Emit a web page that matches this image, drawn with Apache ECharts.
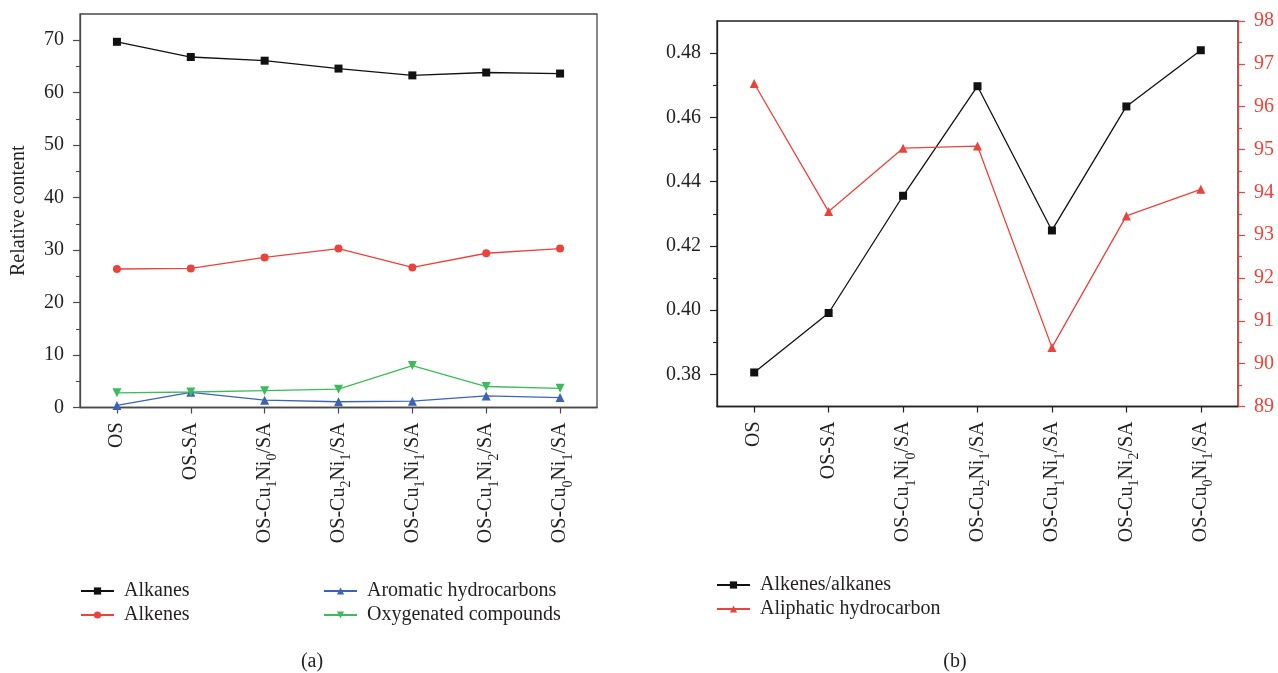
<!DOCTYPE html>
<html>
<head>
<meta charset="utf-8">
<script src="https://cdn.jsdelivr.net/npm/echarts@6/dist/echarts.min.js"></script>
<style>
  html, body { margin: 0; padding: 0; background: #fff; }
  #chart { width: 1278px; height: 673px; }
</style>
</head>
<body>
<div id="chart"></div>
<script>
// Catalyst samples (digits after Cu / Ni are drawn as subscripts)
const categories = ['OS', 'OS-SA', 'OS-Cu1Ni0/SA', 'OS-Cu2Ni1/SA', 'OS-Cu1Ni1/SA', 'OS-Cu1Ni2/SA', 'OS-Cu0Ni1/SA'];

// Panel (a): relative content of product groups
const alkanes    = [69.7, 66.8, 66.1, 64.6, 63.3, 63.85, 63.65];
const alkenes    = [26.4, 26.5, 28.6, 30.3, 26.7, 29.4, 30.3];
const aromatic   = [0.4, 2.9, 1.4, 1.1, 1.2, 2.2, 1.9];
const oxygenated = [2.8, 2.95, 3.2, 3.5, 8.0, 4.0, 3.65];

// Panel (b): alkenes/alkanes ratio and aliphatic hydrocarbon share
const ratio     = [0.3806, 0.3991, 0.4356, 0.4697, 0.4248, 0.4634, 0.4809];
const aliphatic = [96.54, 93.55, 95.03, 95.08, 90.38, 93.45, 94.07];

// Tick values
const contentTicks = [0, 10, 20, 30, 40, 50, 60, 70];
const contentMinor = [5, 15, 25, 35, 45, 55, 65];
const ratioTicks   = [0.38, 0.40, 0.42, 0.44, 0.46, 0.48];
const ratioMinor   = [0.39, 0.41, 0.43, 0.45, 0.47];

const FONT = 'Liberation Serif';
const INK = '#231f20';
const RED = '#e8433d';
const BLACK = '#111111';
const BLUE = '#3d63b5';
const GREEN = '#3dba5c';

const catLabel = v => v.replace(/(Cu|Ni)(\d)/g, '$1{s|$2}');

function xAxisFor(gridIndex, lineColor) {
  return {
    type: 'category', gridIndex, data: categories, boundaryGap: true,
    axisLine: { show: true, lineStyle: { color: lineColor, width: 1.3 } },
    axisTick: { show: true, alignWithLabel: true, length: 6, lineStyle: { color: lineColor, width: 1.2 } },
    axisLabel: {
      rotate: 90, margin: 15, interval: 0, color: INK, fontFamily: FONT, fontSize: 20, lineHeight: 21,
      formatter: catLabel,
      rich: { s: { fontFamily: FONT, fontSize: 14, color: INK, verticalAlign: 'bottom', lineHeight: 30 } }
    },
    splitLine: { show: false }
  };
}

const labelStyle = { color: INK, fontFamily: FONT, fontSize: 20 };
const legendText = { color: INK, fontFamily: FONT, fontSize: 20, padding: [0, 0, 0, 5] };

const option = {
  animation: false,
  backgroundColor: '#ffffff',
  grid: [
    { left: 80, right: 681, top: 14, bottom: 265.5, show: true, borderColor: '#4a4a4a', borderWidth: 1.3, containLabel: false },
    { left: 717, right: 40, top: 21, bottom: 266.5, show: true, borderColor: '#222', borderWidth: 1.3, containLabel: false }
  ],
  xAxis: [ xAxisFor(0, '#4a4a4a'), xAxisFor(1, '#222') ],
  yAxis: [
    {
      type: 'value', gridIndex: 0, min: 0, max: 75, position: 'left',
      name: 'Relative content', nameLocation: 'middle', nameGap: 51,
      nameTextStyle: { color: INK, fontFamily: FONT, fontSize: 20 },
      axisLine: { show: true, lineStyle: { color: '#4a4a4a', width: 1.3 } },
      axisTick: { show: true, length: 7, customValues: contentTicks, lineStyle: { color: '#4a4a4a', width: 1.2 } },
      axisLabel: Object.assign({ margin: 16, customValues: contentTicks }, labelStyle),
      splitLine: { show: false }
    },
    {
      type: 'value', gridIndex: 0, min: 0, max: 75, position: 'left',
      axisLine: { show: false },
      axisTick: { show: true, length: 4, customValues: contentMinor, lineStyle: { color: '#4a4a4a', width: 1.1 } },
      axisLabel: { show: false },
      splitLine: { show: false }
    },
    {
      type: 'value', gridIndex: 1, min: 0.37, max: 0.49, position: 'left',
      axisLine: { show: true, lineStyle: { color: '#222', width: 1.3 } },
      axisTick: { show: true, length: 7, customValues: ratioTicks, lineStyle: { color: '#222', width: 1.2 } },
      axisLabel: Object.assign({ margin: 16, customValues: ratioTicks, formatter: v => v.toFixed(2) }, labelStyle),
      splitLine: { show: false }
    },
    {
      type: 'value', gridIndex: 1, min: 0.37, max: 0.49, position: 'left',
      axisLine: { show: false },
      axisTick: { show: true, length: 4, customValues: ratioMinor, lineStyle: { color: '#222', width: 1.1 } },
      axisLabel: { show: false },
      splitLine: { show: false }
    },
    {
      type: 'value', gridIndex: 1, min: 89, max: 98, interval: 1, position: 'right',
      axisLine: { show: true, lineStyle: { color: RED, width: 1.3 } },
      axisTick: { show: true, length: 7, lineStyle: { color: RED, width: 1.2 } },
      minorTick: { show: true, splitNumber: 2, length: 4, lineStyle: { color: RED, width: 1.1 } },
      axisLabel: { margin: 16, color: RED, fontFamily: FONT, fontSize: 20 },
      splitLine: { show: false }
    }
  ],
  legend: [
    {
      left: 80, top: 581, padding: 0, orient: 'vertical', itemGap: 4, itemWidth: 33, itemHeight: 9,
      data: ['Alkanes', 'Alkenes'], textStyle: legendText, selectedMode: false
    },
    {
      left: 323, top: 581, padding: 0, orient: 'vertical', itemGap: 4, itemWidth: 33, itemHeight: 9,
      data: ['Aromatic hydrocarbons', 'Oxygenated compounds'], textStyle: legendText, selectedMode: false
    },
    {
      left: 716, top: 575, padding: 0, orient: 'vertical', itemGap: 4, itemWidth: 33, itemHeight: 9,
      data: ['Alkenes/alkanes', 'Aliphatic hydrocarbon'], textStyle: legendText, selectedMode: false
    }
  ],
  graphic: [
    { type: 'text', x: 312, y: 652, style: { text: '(a)', fill: INK, font: '20px "Liberation Serif"', textAlign: 'center' } },
    { type: 'text', x: 955, y: 652, style: { text: '(b)', fill: INK, font: '20px "Liberation Serif"', textAlign: 'center' } }
  ],
  series: [
    { name: 'Alkanes', type: 'line', xAxisIndex: 0, yAxisIndex: 0, data: alkanes,
      symbol: 'rect', symbolSize: 8, color: BLACK, lineStyle: { width: 1.3 } },
    { name: 'Alkenes', type: 'line', xAxisIndex: 0, yAxisIndex: 0, data: alkenes,
      symbol: 'circle', symbolSize: 8, color: RED, lineStyle: { width: 1.3 } },
    { name: 'Aromatic hydrocarbons', type: 'line', xAxisIndex: 0, yAxisIndex: 0, data: aromatic,
      symbol: 'triangle', symbolSize: 9, color: BLUE, lineStyle: { width: 1.3 } },
    { name: 'Oxygenated compounds', type: 'line', xAxisIndex: 0, yAxisIndex: 0, data: oxygenated,
      symbol: 'triangle', symbolRotate: 180, symbolSize: 9, color: GREEN, lineStyle: { width: 1.3 } },
    { name: 'Alkenes/alkanes', type: 'line', xAxisIndex: 1, yAxisIndex: 2, data: ratio,
      symbol: 'rect', symbolSize: 8, color: BLACK, lineStyle: { width: 1.3 } },
    { name: 'Aliphatic hydrocarbon', type: 'line', xAxisIndex: 1, yAxisIndex: 4, data: aliphatic,
      symbol: 'triangle', symbolSize: 9, color: RED, lineStyle: { width: 1.3 } }
  ]
};

const chart = echarts.init(document.getElementById('chart'), null, { renderer: 'canvas' });
chart.setOption(option);
</script>
</body>
</html>
